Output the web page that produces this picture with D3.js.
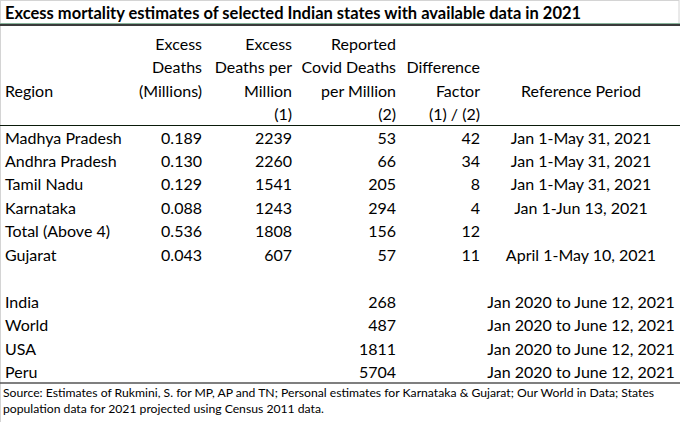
<!DOCTYPE html>
<html><head><meta charset="utf-8">
<script src="https://cdn.jsdelivr.net/npm/d3@7"></script>
<style>
html,body{margin:0;padding:0;background:#fff;}
svg text{font-family:Lato,"Open Sans",sans-serif;fill:#000;}
</style></head>
<body><svg id="c" width="680" height="422"></svg>
<script>
const title = "Excess mortality estimates of selected Indian states with available data in 2021";
const headers = [
  ["", "", "Region", ""],
  ["Excess", "Deaths", "(Millions)", ""],
  ["Excess", "Deaths per", "Million", "(1)"],
  ["Reported", "Covid Deaths", "per Million", "(2)"],
  ["", "Difference", "Factor", "(1) / (2)"],
  ["", "", "Reference Period", ""]
];
const regions = ["Madhya Pradesh","Andhra Pradesh","Tamil Nadu","Karnataka","Total (Above 4)","Gujarat","","India","World","USA","Peru"];
const excessDeaths = [0.189,0.130,0.129,0.088,0.536,0.043,null,null,null,null,null];
const excessPerMillion = [2239,2260,1541,1243,1808,607,null,null,null,null,null];
const reportedPerMillion = [53,66,205,294,156,57,null,268,487,1811,5704];
const differenceFactor = [42,34,8,4,12,11,null,null,null,null,null];
const referencePeriod = ["Jan 1-May 31, 2021","Jan 1-May 31, 2021","Jan 1-May 31, 2021","Jan 1-Jun 13, 2021","","April 1-May 10, 2021","","Jan 2020 to June 12, 2021","Jan 2020 to June 12, 2021","Jan 2020 to June 12, 2021","Jan 2020 to June 12, 2021"];
const sourceLines = [
  "Source: Estimates of Rukmini, S. for MP, AP and TN; Personal estimates for Karnataka & Gujarat; Our World in Data; States",
  "population data for 2021 projected using Census 2011 data."
];

const svg = d3.select("#c");
const FS = 16;

const cols = [
  {x:5, anchor:"start"},
  {x:202, anchor:"end"},
  {x:292, anchor:"end"},
  {x:396, anchor:"end"},
  {x:480, anchor:"end"},
  {x:581, anchor:"middle"}
];

const yRow = d3.scaleLinear().domain([0, regions.length-1]).range([143.5, 378]);
const yHead = d3.scaleLinear().domain([0, 3]).range([49.5, 120]);

// borders
svg.append("rect").attr("x",0.5).attr("y",0.5).attr("width",678.5).attr("height",23)
  .attr("fill","none").attr("stroke","#d4d4d4").attr("stroke-width",1);
svg.append("line").attr("x1",0.5).attr("x2",0.5).attr("y1",0).attr("y2",422).attr("stroke","#d4d4d4");
svg.append("line").attr("x1",0).attr("x2",680).attr("y1",23.5).attr("y2",23.5).attr("stroke","#87b39a").attr("stroke-width",1);
svg.append("line").attr("x1",0).attr("x2",680).attr("y1",25).attr("y2",25).attr("stroke","#3a3a3a").attr("stroke-width",2);
svg.append("line").attr("x1",0).attr("x2",680).attr("y1",125.5).attr("y2",125.5).attr("stroke","#0a1a0a").attr("stroke-width",1.2);
svg.append("line").attr("x1",0).attr("x2",680).attr("y1",383).attr("y2",383).attr("stroke","#555").attr("stroke-width",1.6);

svg.append("text").attr("x",5).attr("y",18.5).attr("font-size",16.5).attr("font-weight","bold").text(title);

headers.forEach((lines, ci) => {
  lines.forEach((t, li) => {
    if (!t) return;
    svg.append("text").attr("x", cols[ci].x).attr("y", yHead(li))
      .attr("text-anchor", cols[ci].anchor).attr("font-size", FS).text(t);
  });
});

const fmt3 = d3.format(".3f");
const columnsData = [
  regions.map(d => d),
  excessDeaths.map(d => d == null ? "" : fmt3(d)),
  excessPerMillion.map(d => d == null ? "" : String(d)),
  reportedPerMillion.map(d => d == null ? "" : String(d)),
  differenceFactor.map(d => d == null ? "" : String(d)),
  referencePeriod
];
columnsData.forEach((vals, ci) => {
  svg.append("g").selectAll("text").data(vals).join("text")
    .attr("x", cols[ci].x).attr("y", (d,i) => yRow(i))
    .attr("text-anchor", cols[ci].anchor).attr("font-size", FS).text(d => d);
});

svg.selectAll("text.src").data(sourceLines).join("text").attr("class","src")
  .attr("x",3).attr("y",(d,i)=>397+i*15.5).attr("font-size",12.2).text(d=>d);
</script></body></html>
